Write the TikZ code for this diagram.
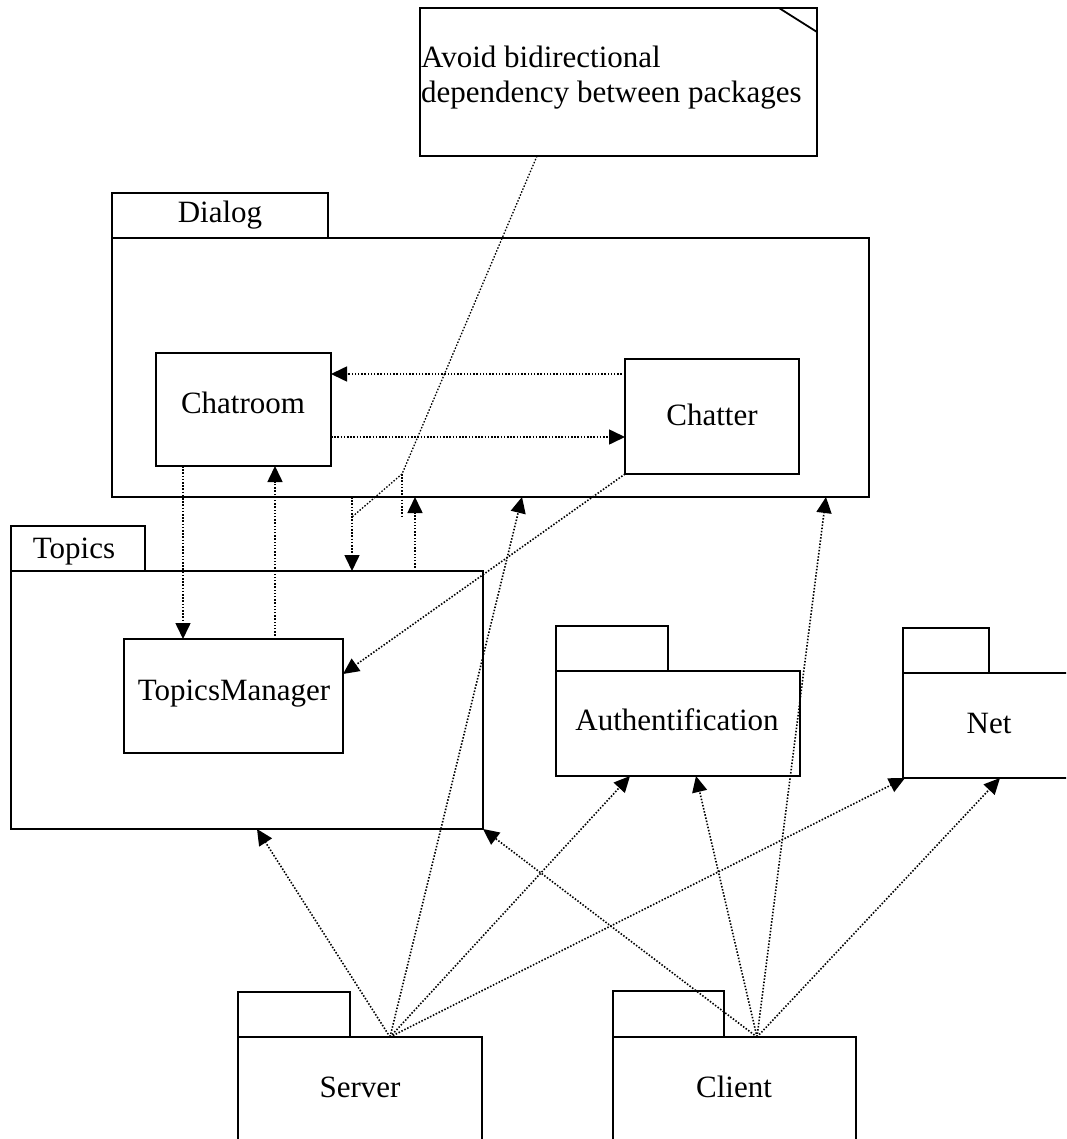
\documentclass[tikz,border=0pt]{standalone}
\usepackage{fontspec}
\setmainfont{Liberation Serif}
\usetikzlibrary{arrows.meta,calc}
\begin{document}
\begin{tikzpicture}[x=1pt,y=-1pt,
  box/.style={draw, line width=1.8pt, inner sep=0pt, outer sep=0pt, anchor=north west},
  lbl/.style={anchor=base, inner sep=0pt, font=\fontsize{31}{35}\selectfont},
  dep/.style={line width=1.6pt, dash pattern=on 1.5pt off 1.7pt, -{Triangle[length=16pt,width=15pt]}},
  noteline/.style={line width=1.3pt, dash pattern=on 1.5pt off 1.7pt}]
\useasboundingbox (0,0) rectangle (1066,1139);
\clip (0,0) rectangle (1066,1139);
\fill[white] (0,0) rectangle (1066,1139);

% note
\node[box, minimum width=397pt, minimum height=148pt] (note) at (420,8) {};
\draw[line width=1.8pt] ($(note.north east)+(-38,0)$) -- ($(note.north east)+(0,24)$);
\node[lbl, anchor=base west] (note1) at (421,68) {Avoid bidirectional};
\node[lbl, anchor=base west] (note2) at (421,103) {dependency between packages};

% Dialog package
\node[box, minimum width=216pt, minimum height=45pt] (dialogtab) at (112,193) {};
\node[box, minimum width=757pt, minimum height=259pt] (dialog) at (112,238) {};
\node[lbl] (dialoglbl) at (220,223) {Dialog};
\node[box, minimum width=175pt, minimum height=113pt] (chatroom) at (156,353) {};
\node[lbl] (chatroomlbl) at (243,413) {Chatroom};
\node[box, minimum width=174pt, minimum height=115pt] (chatter) at (625,359) {};
\node[lbl] (chatterlbl) at (712,425) {Chatter};

% Topics package
\node[box, minimum width=134pt, minimum height=45pt] (topicstab) at (11,526) {};
\node[box, minimum width=472pt, minimum height=258pt] (topics) at (11,571) {};
\node[lbl] (topicslbl) at (74,558) {Topics};
\node[box, minimum width=219pt, minimum height=114pt] (tm) at (124,639) {};
\node[lbl] (tmlbl) at (234,700) {TopicsManager};

% Authentification
\node[box, minimum width=112pt, minimum height=45pt] (authtab) at (556,626) {};
\node[box, minimum width=244pt, minimum height=105pt] (auth) at (556,671) {};
\node[lbl] (authlbl) at (677,730) {Authentification};

% Net
\node[box, minimum width=86pt, minimum height=45pt] (nettab) at (903,628) {};
\node[box, minimum width=172pt, minimum height=105pt] (net) at (903,673) {};
\node[lbl] (netlbl) at (989,733) {Net};

% Server
\node[box, minimum width=112pt, minimum height=45pt] (servertab) at (238,992) {};
\node[box, minimum width=244pt, minimum height=130pt] (server) at (238,1037) {};
\node[lbl] (serverlbl) at (360,1097) {Server};

% Client
\node[box, minimum width=111pt, minimum height=46pt] (clienttab) at (613,991) {};
\node[box, minimum width=243pt, minimum height=130pt] (client) at (613,1037) {};
\node[lbl] (clientlbl) at (734,1097) {Client};

% inner dependencies
\draw[dep] ($(chatter.north west)+(0,15)$) -- ($(chatroom.north east)+(0,21)$);
\draw[dep] ($(chatroom.north east)+(0,84)$) -- ($(chatter.north west)+(0,78)$);
\draw[dep] ($(chatroom.south west)+(27,0)$) -- ($(tm.north west)+(59,0)$);
\draw[dep] ($(tm.north west)+(151,0)$) -- ($(chatroom.south west)+(119,0)$);
\draw[dep] (chatter.south west) -- ($(tm.north east)+(0,35)$);
\draw[dep] ($(dialog.south west)+(240,0)$) -- ($(topics.north west)+(341,0)$);
\draw[dep] ($(topics.north west)+(404,0)$) -- ($(dialog.south west)+(303,0)$);

% note connector
\coordinate (nj) at ($(dialog.south west)+(290,-23)$);
\draw[noteline] ($(note.south west)+(117,0)$) -- (nj);
\draw[noteline] (nj) -- ($(dialog.south west)+(240,20)$);
\draw[noteline] (nj) -- ($(dialog.south west)+(290,20)$);

% server dependencies
\coordinate (so) at ($(server.north west)+(152,0)$);
\draw[dep] (so) -- ($(topics.south west)+(246,0)$);
\draw[dep] (so) -- ($(dialog.south west)+(410,0)$);
\draw[dep] (so) -- ($(auth.south west)+(74,0)$);
\draw[dep] (so) -- ($(net.south west)+(2,0)$);

% client dependencies
\coordinate (co) at ($(client.north west)+(144,0)$);
\draw[dep] (co) -- (topics.south east);
\draw[dep] (co) -- ($(dialog.south west)+(714,0)$);
\draw[dep] (co) -- ($(auth.south west)+(140,0)$);
\draw[dep] (co) -- ($(net.south west)+(97,0)$);
\end{tikzpicture}
\end{document}
